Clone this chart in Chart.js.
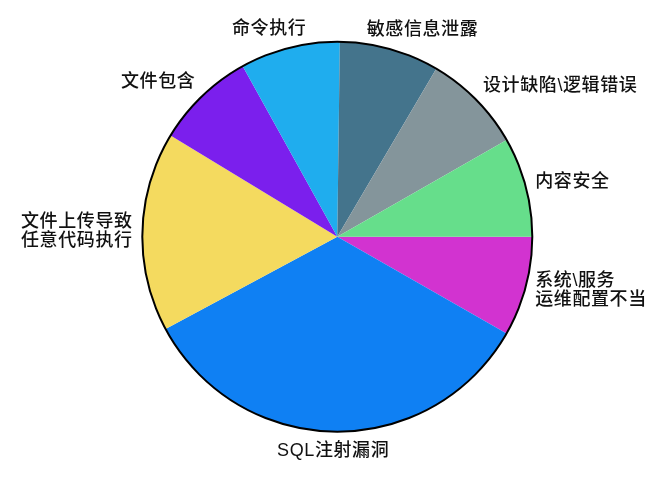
<!DOCTYPE html>
<html><head><meta charset="utf-8">
<script src="https://cdn.jsdelivr.net/npm/chart.js@4.4.0/dist/chart.umd.min.js"></script>
<style>html,body{margin:0;padding:0;background:#fff;}canvas{display:block;}</style>
</head><body>
<canvas id="c" width="650" height="483"></canvas>
<script>
// Categories in drawing order (clockwise starting at 3 o'clock)
const categories = ['系统\\服务\n运维配置不当', 'SQL注射漏洞', '文件上传导致\n任意代码执行', '文件包含', '命令执行', '敏感信息泄露', '设计缺陷\\逻辑错误', '内容安全'];
const values = [10, 41, 20, 10, 10, 10, 10, 10];
const sliceColors = ['#d233d0', '#0f80f3', '#f4da5f', '#7b1fed', '#1fadee', '#44748c', '#84959b', '#66de8b'];

const pieDecor = {
  id: 'pieDecor',
  afterDatasetsDraw(chart) {
    const meta = chart.getDatasetMeta(0);
    const ctx = chart.ctx;
    const a0 = meta.data[0];
    ctx.save();
    ctx.beginPath();
    ctx.arc(a0.x, a0.y, a0.outerRadius, 0, Math.PI * 2);
    ctx.lineWidth = 2;
    ctx.strokeStyle = '#000';
    ctx.stroke();

    ctx.fillStyle = '#111';
    ctx.font = '500 18px "Liberation Sans", "Noto Sans CJK SC", sans-serif';
    try { ctx.letterSpacing = '0.6px'; } catch (e) {}
    ctx.textBaseline = 'middle';
    ctx.textAlign = 'left';
    const lh = 19;
    meta.data.forEach((arc, i) => {
      const mid = (arc.startAngle + arc.endAngle) / 2;
      const c = Math.cos(mid), s = Math.sin(mid);
      const R = arc.outerRadius * 1.05;
      const ax = arc.x + R * c, ay = arc.y + R * s;
      const lines = String(chart.data.labels[i]).split('\n');
      const h = lines.length * lh;
      const t = 0.5 - 0.5 * Math.max(-1, Math.min(1, c / 0.5));
      const cy = ay + s * lh / (2 * lines.length);
      lines.forEach((l, j) => {
        const lw = ctx.measureText(l).width;
        ctx.fillText(l, ax - t * lw, cy - h / 2 + lh / 2 + j * lh);
      });
    });
    ctx.restore();
  }
};

new Chart(document.getElementById('c'), {
  type: 'pie',
  data: {
    labels: categories,
    datasets: [{
      data: values,
      backgroundColor: sliceColors,
      borderWidth: 0
    }]
  },
  options: {
    responsive: false,
    animation: false,
    rotation: 90,
    layout: { padding: { top: 41.7, bottom: 51.3, left: 24.6, right: 0 } },
    plugins: { legend: { display: false }, tooltip: { enabled: false } }
  },
  plugins: [pieDecor]
});
</script>
</body></html>
